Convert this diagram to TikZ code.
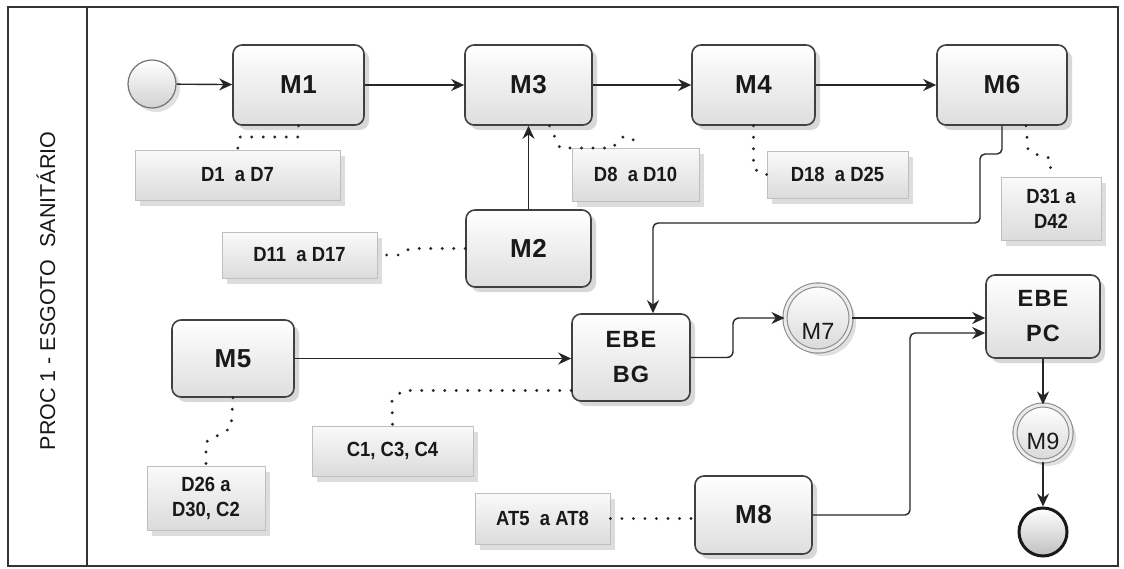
\documentclass[tikz,border=0pt]{standalone}
\usepackage{fontspec}
\setmainfont{Liberation Sans}
\newfontfamily\boxfont[LetterSpace=3]{Liberation Sans}
\newfontfamily\ebefont[LetterSpace=5]{Liberation Sans}
\newfontfamily\narrowfont[FakeStretch=0.9]{Liberation Sans}
\usetikzlibrary{shadows,arrows.meta}
\begin{document}
\begin{tikzpicture}[x=1pt,y=-1pt,
  frameline/.style={draw=black!80, line width=1.6pt},
  task/.style={draw=black!75, line width=1.6pt, rounded corners=9pt, top color=white, bottom color=black!13,
    drop shadow={shadow xshift=5pt, shadow yshift=-5pt, opacity=0.25, fill=black!60},
    font=\boxfont\bfseries\fontsize{26}{35}\selectfont, align=center, inner sep=0pt, text=black!90},
  ebe/.style={task, font=\ebefont\bfseries\fontsize{23.5}{35}\selectfont},
  note/.style={draw=black!25, line width=0.8pt, top color=black!2, bottom color=black!14,
    drop shadow={shadow xshift=5pt, shadow yshift=-6pt, opacity=0.22, fill=black!60},
    font=\narrowfont\bfseries\fontsize{20.5}{25}\selectfont, align=center, inner sep=0pt, text=black!90},
  evt/.style={circle, draw=black!55, line width=1.2pt, top color=white, bottom color=black!18, inner sep=0pt,
    drop shadow={shadow xshift=4pt, shadow yshift=-4pt, opacity=0.2, fill=black!60}},
  endevt/.style={circle, draw=black!90, line width=3pt, top color=white, bottom color=black!25, inner sep=0pt},
  inter/.style={circle, draw=black!45, line width=1.1pt, double=black!8, double distance=3pt,
    top color=white, bottom color=black!15, inner sep=0pt,
    drop shadow={shadow xshift=5pt, shadow yshift=-5pt, opacity=0.2, fill=black!60}},
  intertext/.style={font=\fontsize{23.5}{25}\selectfont, text=black!90, inner sep=0pt},
  flow/.style={draw=black!85, line width=1.4pt, -{Stealth[length=13pt,width=12pt]}},
  assoc/.style={draw=black!85, line width=3.2pt, line cap=round, dash pattern=on 0pt off 11.5pt}
]
\useasboundingbox (0,0) rectangle (1124,568);
\fill[white] (0,0) rectangle (1124,568);
\draw[frameline] (8,7) rectangle (1118,566);
\draw[frameline] (87,7) -- (87,566);
\node[rotate=90, font=\fontsize{21.5}{23}\selectfont, text=black!90] (lane) at (46,291) {PROC 1 - ESGOTO\ \ SANITÁRIO};

% events
\node[evt, minimum size=48pt] (start) at (152,84) {};
\node[inter, minimum size=66pt] (M7) at (818,318) {};
\node[intertext] (M7t) at (818,331) {M7};
\node[inter, minimum size=56pt] (M9) at (1043,433) {};
\node[intertext] (M9t) at (1043,441) {M9};
\node[endevt, minimum size=48pt] (end) at (1043,532) {};

% tasks
\node[task, minimum width=131pt, minimum height=80pt] (M1) at (298.5,85) {M1};
\node[task, minimum width=127pt, minimum height=80pt] (M3) at (528.5,85) {M3};
\node[task, minimum width=123pt, minimum height=80pt] (M4) at (753.5,85) {M4};
\node[task, minimum width=130pt, minimum height=80pt] (M6) at (1002,85) {M6};
\node[task, minimum width=125pt, minimum height=77pt] (M2) at (528.5,248.5) {M2};
\node[task, minimum width=122pt, minimum height=77pt] (M5) at (233,358.5) {M5};
\node[ebe, minimum width=118pt, minimum height=87pt] (EBEBG) at (631,357.5) {EBE\\BG};
\node[ebe, minimum width=114pt, minimum height=83pt] (EBEPC) at (1043,316.5) {EBE\\PC};
\node[task, minimum width=117pt, minimum height=78pt] (M8) at (753.5,515) {M8};

% notes
\node[note, minimum width=205pt, minimum height=50pt] (D1) at (237.5,175) {D1\ \ a D7};
\node[note, minimum width=127pt, minimum height=53pt] (D8) at (635.5,174.5) {D8\ \ a D10};
\node[note, minimum width=141pt, minimum height=47pt] (D18) at (837.5,174.5) {D18\ \ a D25};
\node[note, minimum width=100pt, minimum height=63pt] (D31) at (1051,208.5) {D31 a\\D42};
\node[note, minimum width=155pt, minimum height=46pt] (D11) at (299.5,255) {D11\ \ a D17};
\node[note, minimum width=161pt, minimum height=50pt] (C1) at (392.5,451) {C1, C3, C4};
\node[note, minimum width=118pt, minimum height=64pt] (D26) at (206,498) {D26 a\\D30, C2};
\node[note, minimum width=135pt, minimum height=51pt] (AT5) at (542.5,518.5) {AT5\ \ a AT8};

% sequence flows
\draw[flow] (start) -- (M1);
\draw[flow] (M1) -- (M3);
\draw[flow] (M3) -- (M4);
\draw[flow] (M4) -- (M6);
\draw[flow] (M2) -- (M3);
\draw[flow, rounded corners=5pt] (M6.south) -- (1002,154) -- (980,154) -- (980,223) -- (653,223) -- ([xshift=22pt]EBEBG.north);
\draw[flow] (M5.east) -- (M5.east -| EBEBG.west);
\draw[flow, rounded corners=6pt] (EBEBG.east) -- (733,357.5) -- (733,318) -- (M7);
\draw[flow] (M7) -- (M7 -| EBEPC.west);
\coordinate (m8in) at ([yshift=-16.5pt]EBEPC.west);
\draw[flow, rounded corners=5pt] (M8.east) -- (910,515) -- (910,333) -- (m8in);
\draw[flow] (EBEPC) -- (M9);
\draw[flow] (M9) -- (end);

% associations
\draw[assoc] (M1.south) -- (298,137) -- (240,137) -- (D1.north);
\coordinate (d8end) at (636,141);
\draw[assoc] ([xshift=21pt]M3.south) -- (560,148) -- (612,148) -- (624,136) -- (d8end);
\draw[assoc] (M4.south) -- (753.5,168) -- (762,174.5) -- (D18.west);
\draw[assoc] ([xshift=24pt]M6.south) -- (1028,150) -- (1040,156) -- (1050,158) -- (D31.north);
\draw[assoc] (M2.west) -- (410,248.5) -- (400,255) -- (D11.east);
\draw[assoc] (M5.south) -- (231,428) -- (206,442) -- (D26.north);
\draw[assoc] ([yshift=-33pt]EBEBG.west) -- (403,390.5) -- (392,400) -- (C1.north);
\draw[assoc] (AT5.east) -- (AT5.east -| M8.west);
\end{tikzpicture}
\end{document}
